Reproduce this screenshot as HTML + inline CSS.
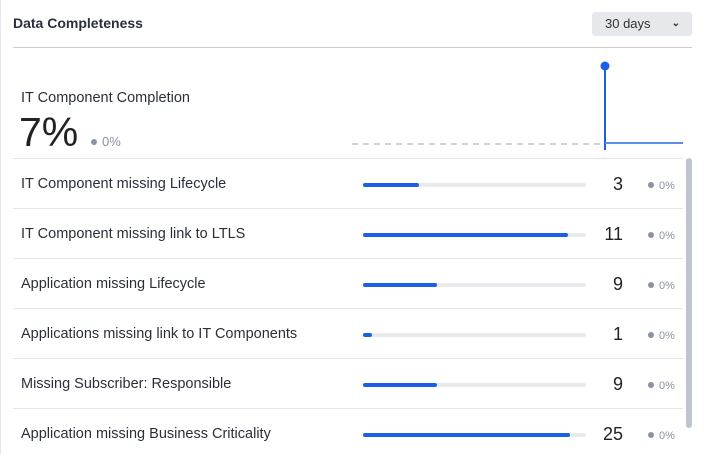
<!DOCTYPE html>
<html><head><meta charset="utf-8"><style>
body{margin:0;width:704px;height:455px;overflow:hidden;background:#fff;font-family:"Liberation Sans",sans-serif;color:#2a2f3a;position:relative}
.a{position:absolute}
.row{position:absolute;left:13px;width:670px;height:50px;border-top:1px solid #e3e6ec}
.lbl{position:absolute;left:8px;top:17px;font-size:14.5px}
.trk{position:absolute;left:350px;top:24px;width:223px;height:4px;background:#e8eaee;border-radius:2px}
.fill{height:4px;background:#1b5fe8;border-radius:2px}
.num{position:absolute;right:60px;top:15px;font-size:18px;color:#222}
.chg{position:absolute;left:635px;top:21px;font-size:11px;color:#8a93a6}
.dot{display:inline-block;width:6px;height:6px;border-radius:3px;background:#8a93a6;margin-right:5px;vertical-align:1px}
</style></head><body>
<div class="a" style="left:0;top:0;width:1px;height:455px;background:#e6e8ec"></div>
<div class="a" style="left:13px;top:15px;font-size:14px;font-weight:bold;color:#2a2f3a">Data Completeness</div>
<div class="a" style="left:592px;top:12px;width:100px;height:24px;background:#e6e8ec;border-radius:3px;font-size:13px;line-height:24px;color:#333"><span style="margin-left:13px">30 days</span><span style="position:absolute;right:12px;font-size:10px;font-weight:bold">&#8964;</span></div>
<div class="a" style="left:13px;top:47px;width:679px;height:1px;background:#d3c9cc"></div>
<div class="a" style="left:21px;top:90px;font-size:14.5px">IT Component Completion</div>
<div class="a" style="left:19px;top:109px;font-size:41px;font-weight:300;color:#222">7%</div>
<div class="a" style="left:91px;top:134px;font-size:13px;color:#8a93a6"><span class="dot"></span>0%</div>
<svg class="a" style="left:0;top:0" width="704" height="160">
<line x1="352" y1="144" x2="605" y2="144" stroke="#cfd3da" stroke-width="2" stroke-dasharray="6,5"/>
<line x1="605" y1="70" x2="605" y2="150" stroke="#1b5fe8" stroke-width="2"/>
<line x1="605" y1="143" x2="683" y2="143" stroke="#5b8cf0" stroke-width="2"/>
<circle cx="605" cy="66" r="4.5" fill="#1b5fe8"/>
</svg>
<div class="a" style="left:686px;top:158px;width:6px;height:270px;background:#bfc4cd;border-radius:3px"></div>
<div id="rows"></div>
<script>
const labels=["IT Component missing Lifecycle","IT Component missing link to LTLS","Application missing Lifecycle","Applications missing link to IT Components","Missing Subscriber: Responsible","Application missing Business Criticality"];
const counts=[3,11,9,1,9,25];
const fractions=[0.25,0.92,0.33,0.04,0.33,0.93];
const changes=["0%","0%","0%","0%","0%","0%"];
const c=document.getElementById('rows');
labels.forEach((l,i)=>{
 const r=document.createElement('div');r.className='row';r.style.top=(158+i*50)+'px';
 
 
 r.innerHTML='<div class="lbl">'+l+'</div><div class="trk"><div class="fill" style="width:'+(fractions[i]*100)+'%"></div></div><div class="num">'+counts[i]+'</div><div class="chg"><span class="dot"></span>'+changes[i]+'</div>';
 c.appendChild(r);
});
</script>
</body></html>
